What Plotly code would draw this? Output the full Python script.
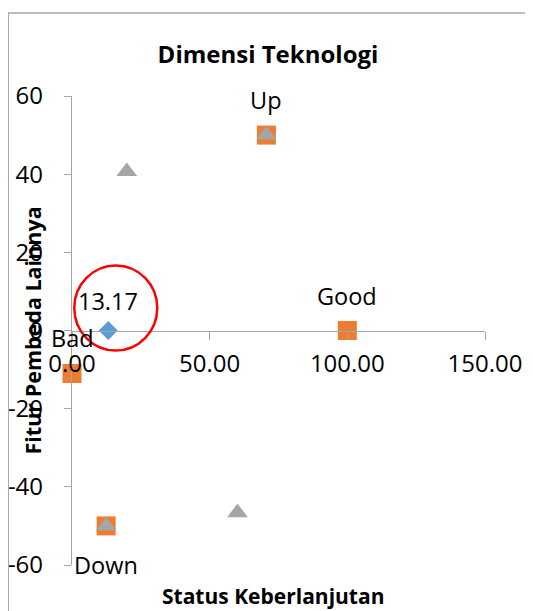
import plotly.graph_objects as go

# ---- data ----
status_x = [13.17]
status_y = [0]
status_label = ["13.17"]

anchor_x = [100, 0, 70.6, 12.4]
anchor_y = [0, -11, 50, -50]
anchor_label = ["Good", "Bad", "Up", "Down"]

other_x = [70.6, 19.9, 12.4, 60.1]
other_y = [50, 40.7, -50, -46.6]

x_ticks = [0, 50, 100, 150]
x_tick_labels = ["0.00", "50.00", "100.00", "150.00"]
y_ticks = [-60, -40, -20, 0, 20, 40, 60]
y_tick_labels = ["-60", "-40", "-20", "0", "20", "40", "60"]

title = "Dimensi Teknologi"
x_title = "Status Keberlanjutan"
y_title = "Fitur Pembeda Lainnya"

FONT = "Open Sans"
AX = "#a6a6a6"
FS = 24

fig = go.Figure()
fig.add_trace(go.Scatter(x=status_x, y=status_y, mode="markers", cliponaxis=False,
                         marker=dict(symbol="diamond", size=14.6, color="#5b9bd5"),
                         showlegend=False, hoverinfo="skip"))
fig.add_trace(go.Scatter(x=anchor_x, y=anchor_y, mode="markers", cliponaxis=False,
                         marker=dict(symbol="square", size=19, color="#ed7d31"),
                         showlegend=False, hoverinfo="skip"))
fig.add_trace(go.Scatter(x=other_x, y=other_y, mode="markers", cliponaxis=False,
                         marker=dict(symbol="triangle-up", size=18, color="#a5a5a5"),
                         showlegend=False, hoverinfo="skip"))

annotations = []
shifts = {"Good": (0, 35), "Bad": (0, 35), "Up": (0, 35), "Down": (0, -39)}
for x, y, lab in zip(anchor_x, anchor_y, anchor_label):
    dx, dy = shifts[lab]
    annotations.append(dict(x=x, y=y, xref="x", yref="y", text=lab, showarrow=False,
                            xshift=dx, yshift=dy, font=dict(family=FONT, size=23.5, color="black")))
for x, y, lab in zip(status_x, status_y, status_label):
    annotations.append(dict(x=x, y=y, xref="x", yref="y", text=lab, showarrow=False,
                            yshift=30, font=dict(family=FONT, size=23.5, color="black")))

annotations.append(dict(x=(273 - 72) / 413, y=(565 - 596) / 469, xref="paper", yref="paper",
                        text="<b>" + x_title + "</b>", showarrow=False, yanchor="middle",
                        font=dict(family=FONT, size=21, color="black")))
annotations.append(dict(x=(32 - 72) / 413, y=0.5, xref="paper", yref="paper",
                        text="<b>" + y_title + "</b>", showarrow=False, textangle=-90,
                        xanchor="center", yanchor="middle",
                        font=dict(family=FONT, size=21.5, color="black")))

shapes = [
    dict(type="circle", xref="x", yref="y", xsizemode="pixel", ysizemode="pixel",
         xanchor=status_x[0], yanchor=status_y[0], x0=-34, x1=49, y0=-20, y1=65,
         line=dict(color="red", width=2.5)),
    dict(type="path", xref="paper", yref="paper",
         path="M -0.1545,-0.2 L -0.1545,1.177 L 1.2,1.177",
         line=dict(color=AX, width=1.5)),
]

# the page adds an 8px body margin, so the figure is 8px smaller and shifted
fig.update_layout(
    width=525, height=603, autosize=False,
    margin=dict(l=64, r=48, t=88, b=46, autoexpand=False),
    paper_bgcolor="white", plot_bgcolor="white",
    font=dict(family=FONT, size=FS, color="black"),
    title=dict(text="<b>" + title + "</b>", x=(268 - 8) / 525, xref="container", xanchor="center",
               y=1 - (55 - 8) / 603, yref="container", yanchor="middle",
               font=dict(family=FONT, size=24, color="black")),
    xaxis=dict(range=[0, 150], domain=[0, 1], anchor="free", position=0.5, automargin=False,
               showline=True, linecolor=AX, linewidth=1.3, ticks="outside", ticklen=8,
               tickcolor=AX, tickwidth=1.3, tickvals=x_ticks, ticktext=x_tick_labels,
               showgrid=False, zeroline=False, ticklabelstandoff=4,
               tickfont=dict(family=FONT, size=FS, color="black")),
    yaxis=dict(range=[-60, 60], domain=[0, 1], automargin=False, showline=True, linecolor=AX,
               linewidth=1.3, ticks="outside", ticklen=7, tickcolor=AX, tickwidth=1.3,
               tickvals=y_ticks, ticktext=y_tick_labels, showgrid=False, zeroline=False,
               ticklabelstandoff=16, tickfont=dict(family=FONT, size=FS, color="black")),
    annotations=annotations, shapes=shapes,
)

fig.write_html("out.html")
